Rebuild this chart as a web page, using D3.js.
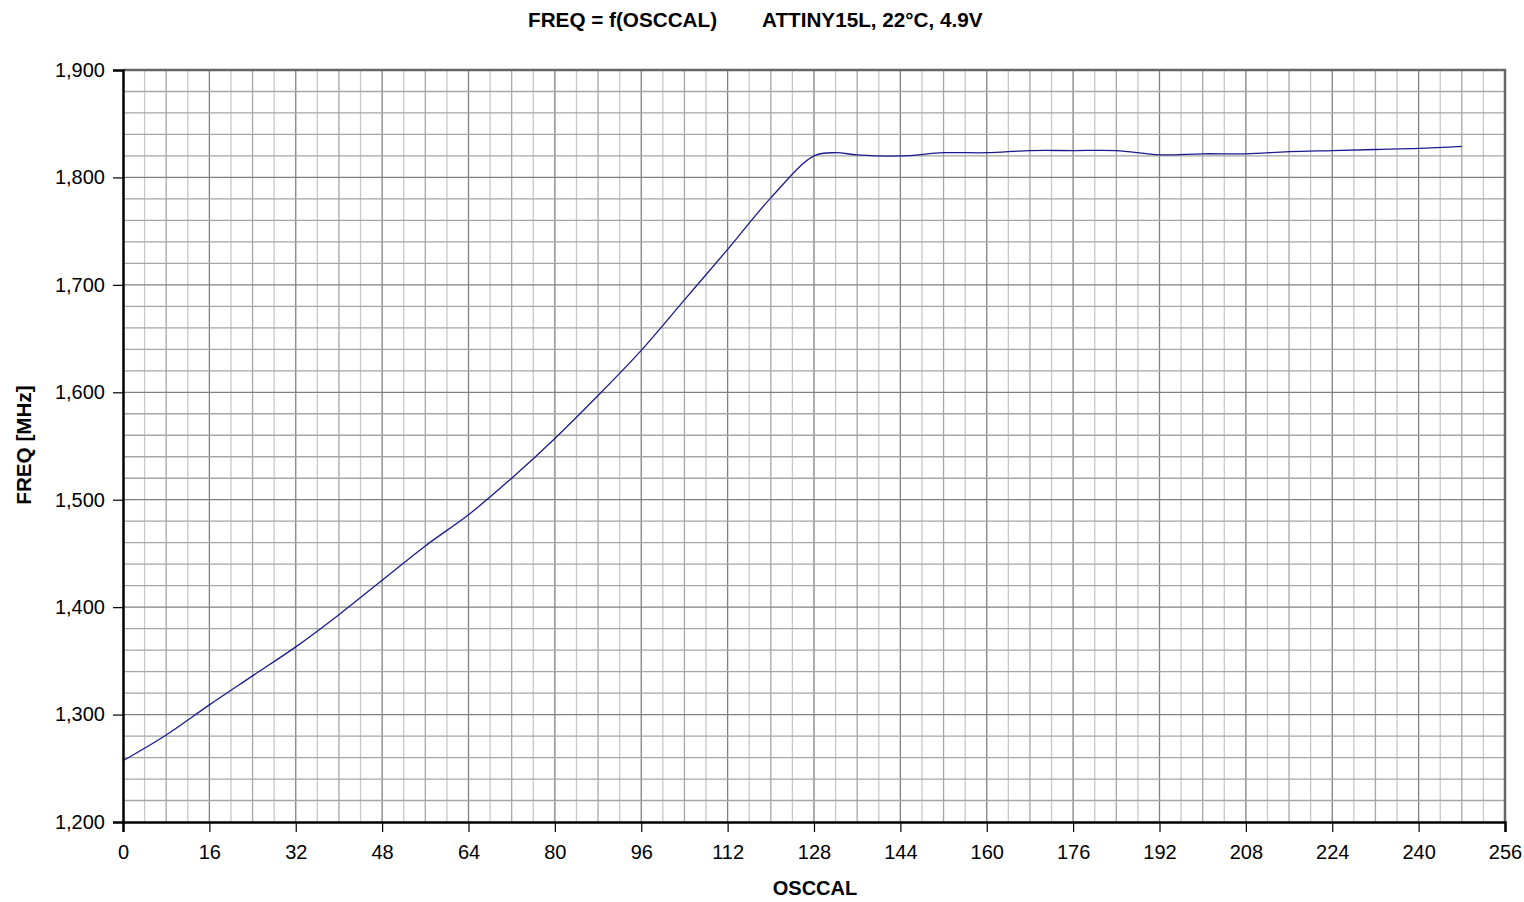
<!DOCTYPE html>
<html>
<head>
<meta charset="utf-8">
<script src="https://cdn.jsdelivr.net/npm/d3@7"></script>
<style>
  body { margin: 0; background: #fff; }
  svg { font-family: "Liberation Sans", Arial, sans-serif; }
</style>
</head>
<body>
<svg id="chart"></svg>
<script>
// data
const osccal = [0, 8, 16, 24, 32, 40, 48, 56, 64, 72, 80, 88, 96, 104, 112, 120,
                128, 132, 136, 144, 152, 160, 168, 176, 184, 192, 200, 208, 216, 224, 232, 240, 248];
const freq = [1257, 1281, 1309, 1336, 1363, 1393, 1425, 1457, 1486, 1520, 1557, 1597, 1639, 1686, 1733, 1781,
              1820, 1823, 1821, 1820, 1823, 1823, 1825, 1825, 1825, 1821, 1822, 1822, 1824, 1825, 1826, 1827, 1829];
const xTicks = d3.range(0, 257, 16);
const yTicks = d3.range(1200, 1901, 100);

const width = 1524;
const height = 902;
const pLeft = 123, pRight = 1505, pTop = 70, pBottom = 822;

const svg = d3.select('#chart')
    .attr('width', width)
    .attr('height', height);

const x = d3.scaleLinear().domain([0, 256]).range([pLeft, pRight]);
const y = d3.scaleLinear().domain([1200, 1900]).range([pBottom, pTop]);

// grid
const grid = svg.append('g');
d3.range(4, 256, 4).forEach(function(v) {
    let col = v % 16 === 0 ? '#808080' : (v % 8 === 0 ? '#a6a6a6' : '#c8c8c8');
    grid.append('line')
        .attr('x1', x(v)).attr('x2', x(v))
        .attr('y1', pTop).attr('y2', pBottom)
        .attr('stroke', col).attr('stroke-width', 1.3);
});
d3.range(1220, 1900, 20).forEach(function(v) {
    let col = v % 100 === 0 ? '#808080' : '#a6a6a6';
    grid.append('line')
        .attr('x1', pLeft).attr('x2', pRight)
        .attr('y1', y(v)).attr('y2', y(v))
        .attr('stroke', col).attr('stroke-width', 1.3);
});

// frame (top + right)
svg.append('path')
    .attr('d', `M${pLeft},${pTop} H${pRight} V${pBottom}`)
    .attr('fill', 'none')
    .attr('stroke', '#666')
    .attr('stroke-width', 2.5);

// curve
const line = d3.line()
    .x((d, i) => x(osccal[i]))
    .y(d => y(d))
    .curve(d3.curveCatmullRom.alpha(0.5));

svg.append('path')
    .datum(freq)
    .attr('d', line)
    .attr('fill', 'none')
    .attr('stroke', '#1a1a8c')
    .attr('stroke-width', 1.3);

// axes
const xAxis = d3.axisBottom(x).tickValues(xTicks).tickSize(10).tickPadding(13);
const yAxis = d3.axisLeft(y).tickValues(yTicks).tickSize(10).tickPadding(8)
    .tickFormat(d3.format(','));

const gx = svg.append('g')
    .attr('transform', `translate(0,${pBottom})`)
    .call(xAxis);
const gy = svg.append('g')
    .attr('transform', `translate(${pLeft},0)`)
    .call(yAxis);

[gx, gy].forEach(function(g) {
    g.select('.domain').attr('stroke', '#000').attr('stroke-width', 2.5);
    g.selectAll('.tick line').attr('stroke', '#000').attr('stroke-width', 1.2);
    g.selectAll('.tick text')
        .attr('fill', '#000')
        .style('font-size', '20px')
        .style('font-family', '"Liberation Sans", Arial, sans-serif');
});

// titles
svg.append('text')
    .attr('x', 528).attr('y', 27)
    .style('font-size', '20.7px').style('font-weight', 'bold')
    .text('FREQ = f(OSCCAL)');
svg.append('text')
    .attr('x', 762).attr('y', 27)
    .style('font-size', '20.7px').style('font-weight', 'bold')
    .text('ATTINY15L, 22°C, 4.9V');

svg.append('text')
    .attr('x', 815).attr('y', 895)
    .attr('text-anchor', 'middle')
    .style('font-size', '20px').style('font-weight', 'bold')
    .text('OSCCAL');

svg.append('text')
    .attr('transform', `translate(31,445) rotate(-90)`)
    .attr('text-anchor', 'middle')
    .style('font-size', '20.7px').style('font-weight', 'bold')
    .text('FREQ [MHz]');
</script>
</body>
</html>
